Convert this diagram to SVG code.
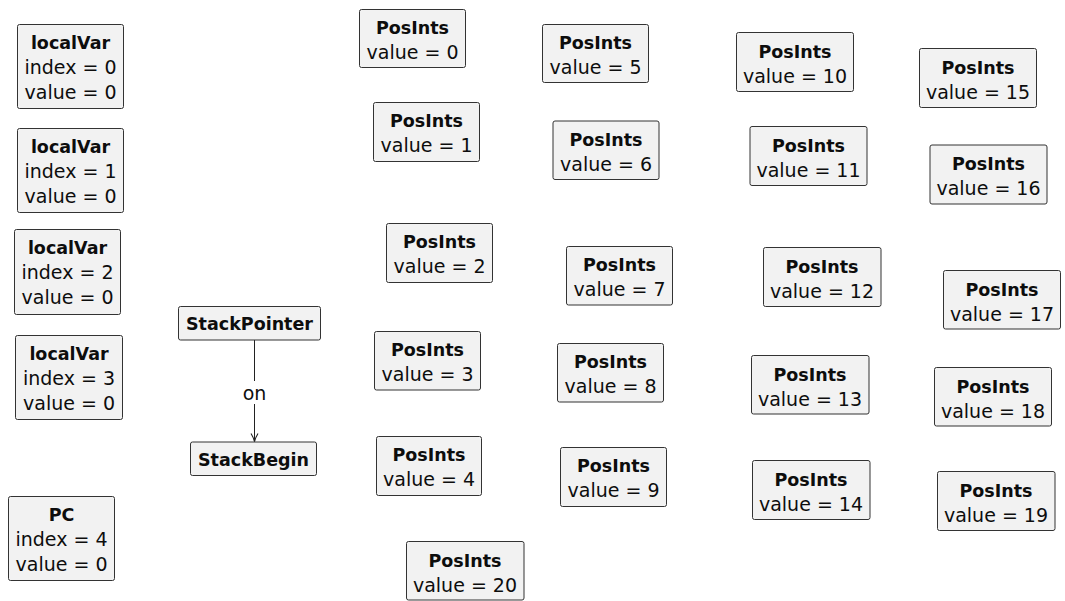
<svg xmlns="http://www.w3.org/2000/svg" width="1065" height="601" viewBox="0 0 1065 601">
  <style>
    .box { fill: #f2f2f2; stroke: #333333; stroke-width: 1; }
    .t { font-family: "DejaVu Sans", "Liberation Sans", sans-serif; font-size: 19px; fill: #0d0d0d; text-anchor: middle; }
    .b { font-weight: bold; font-size: 17.5px; }
    .edge { stroke: #222222; stroke-width: 1; fill: none; }
  </style>
  <defs>
    <marker id="arrow" markerWidth="12" markerHeight="12" refX="9" refY="5" orient="auto" markerUnits="userSpaceOnUse">
      <path d="M1,1.5 Q5,4 9,5 Q5,6 1,8.5" fill="none" stroke="#222222" stroke-width="1.1"/>
    </marker>
  </defs>
  <rect width="1065" height="601" fill="#ffffff"/>

  <!-- connectors -->
  <g id="connectors">
    <path class="edge" d="M254.5,340 L254.5,441.5" marker-end="url(#arrow)"/>
    <rect x="242" y="381" width="25" height="23" fill="#ffffff"/>
    <text class="t" x="254.5" y="400">on</text>
  </g>

  <!-- local variables -->
  <g id="localVar0">
    <rect class="box" x="17.5" y="24.5" width="106" height="84" rx="2"/>
    <text class="t b" x="70.5" y="49">localVar</text>
    <text class="t" x="70.5" y="74">index = 0</text>
    <text class="t" x="70.5" y="99">value = 0</text>
  </g>
  <g id="localVar1">
    <rect class="box" x="17.5" y="128.5" width="106" height="84" rx="2"/>
    <text class="t b" x="70.5" y="153">localVar</text>
    <text class="t" x="70.5" y="178">index = 1</text>
    <text class="t" x="70.5" y="203">value = 0</text>
  </g>
  <g id="localVar2">
    <rect class="box" x="14.5" y="229.5" width="106" height="85" rx="2"/>
    <text class="t b" x="67.5" y="254">localVar</text>
    <text class="t" x="67.5" y="279">index = 2</text>
    <text class="t" x="67.5" y="304">value = 0</text>
  </g>
  <g id="localVar3">
    <rect class="box" x="15.5" y="335.5" width="107" height="84" rx="2"/>
    <text class="t b" x="69" y="360">localVar</text>
    <text class="t" x="69" y="385">index = 3</text>
    <text class="t" x="69" y="410">value = 0</text>
  </g>
  <g id="PC">
    <rect class="box" x="8.5" y="496.5" width="106" height="84" rx="2"/>
    <text class="t b" x="61.5" y="521">PC</text>
    <text class="t" x="61.5" y="546">index = 4</text>
    <text class="t" x="61.5" y="571">value = 0</text>
  </g>

  <!-- stack -->
  <g id="StackPointer">
    <rect class="box" x="178.5" y="306.5" width="142" height="33.5" rx="2"/>
    <text class="t b" x="249.5" y="330">StackPointer</text>
  </g>
  <g id="StackBegin">
    <rect class="box" x="190.5" y="442" width="126" height="33.5" rx="2"/>
    <text class="t b" x="253.5" y="466">StackBegin</text>
  </g>

  <!-- positive integers -->
  <g id="PosInts0">
    <rect class="box" x="359.5" y="9.5" width="106" height="58" rx="2"/>
    <text class="t b" x="412.5" y="34">PosInts</text>
    <text class="t" x="412.5" y="59">value = 0</text>
  </g>
  <g id="PosInts1">
    <rect class="box" x="373.5" y="102.5" width="106" height="59" rx="2"/>
    <text class="t b" x="426.5" y="127">PosInts</text>
    <text class="t" x="426.5" y="152">value = 1</text>
  </g>
  <g id="PosInts2">
    <rect class="box" x="386.5" y="223.5" width="106" height="59" rx="2"/>
    <text class="t b" x="439.5" y="248">PosInts</text>
    <text class="t" x="439.5" y="273">value = 2</text>
  </g>
  <g id="PosInts3">
    <rect class="box" x="374.5" y="331.5" width="106" height="58.5" rx="2"/>
    <text class="t b" x="427.5" y="356">PosInts</text>
    <text class="t" x="427.5" y="381">value = 3</text>
  </g>
  <g id="PosInts4">
    <rect class="box" x="376.5" y="436.5" width="105" height="59" rx="2"/>
    <text class="t b" x="429" y="461">PosInts</text>
    <text class="t" x="429" y="486">value = 4</text>
  </g>
  <g id="PosInts5">
    <rect class="box" x="542.5" y="24.5" width="106" height="58" rx="2"/>
    <text class="t b" x="595.5" y="49">PosInts</text>
    <text class="t" x="595.5" y="74">value = 5</text>
  </g>
  <g id="PosInts6">
    <rect class="box" x="553" y="121" width="106" height="58.5" rx="2"/>
    <text class="t b" x="606" y="145.5">PosInts</text>
    <text class="t" x="606" y="170.5">value = 6</text>
  </g>
  <g id="PosInts7">
    <rect class="box" x="566.5" y="246.5" width="106" height="58.5" rx="2"/>
    <text class="t b" x="619.5" y="271">PosInts</text>
    <text class="t" x="619.5" y="296">value = 7</text>
  </g>
  <g id="PosInts8">
    <rect class="box" x="557.5" y="343.5" width="106" height="58.5" rx="2"/>
    <text class="t b" x="610.5" y="368">PosInts</text>
    <text class="t" x="610.5" y="393">value = 8</text>
  </g>
  <g id="PosInts9">
    <rect class="box" x="560.5" y="447.5" width="106" height="59" rx="2"/>
    <text class="t b" x="613.5" y="472">PosInts</text>
    <text class="t" x="613.5" y="497">value = 9</text>
  </g>
  <g id="PosInts10">
    <rect class="box" x="736.5" y="32.5" width="117" height="59" rx="2"/>
    <text class="t b" x="795" y="57.5">PosInts</text>
    <text class="t" x="795" y="82.5">value = 10</text>
  </g>
  <g id="PosInts11">
    <rect class="box" x="750" y="126.5" width="117" height="59" rx="2"/>
    <text class="t b" x="808.5" y="151.5">PosInts</text>
    <text class="t" x="808.5" y="176.5">value = 11</text>
  </g>
  <g id="PosInts12">
    <rect class="box" x="763.5" y="247.5" width="117.5" height="59" rx="2"/>
    <text class="t b" x="822" y="272.5">PosInts</text>
    <text class="t" x="822" y="297.5">value = 12</text>
  </g>
  <g id="PosInts13">
    <rect class="box" x="751.5" y="355.5" width="117.5" height="58.5" rx="2"/>
    <text class="t b" x="810" y="380.5">PosInts</text>
    <text class="t" x="810" y="405.5">value = 13</text>
  </g>
  <g id="PosInts14">
    <rect class="box" x="752.5" y="460.5" width="117.5" height="59" rx="2"/>
    <text class="t b" x="811" y="485.5">PosInts</text>
    <text class="t" x="811" y="510.5">value = 14</text>
  </g>
  <g id="PosInts15">
    <rect class="box" x="919.5" y="48.5" width="117" height="59" rx="2"/>
    <text class="t b" x="978" y="73.5">PosInts</text>
    <text class="t" x="978" y="98.5">value = 15</text>
  </g>
  <g id="PosInts16">
    <rect class="box" x="930" y="145" width="117" height="59" rx="2"/>
    <text class="t b" x="988.5" y="170">PosInts</text>
    <text class="t" x="988.5" y="195">value = 16</text>
  </g>
  <g id="PosInts17">
    <rect class="box" x="943.5" y="270.5" width="117" height="58.5" rx="2"/>
    <text class="t b" x="1002" y="295.5">PosInts</text>
    <text class="t" x="1002" y="320.5">value = 17</text>
  </g>
  <g id="PosInts18">
    <rect class="box" x="934.5" y="367.5" width="117" height="58.5" rx="2"/>
    <text class="t b" x="993" y="392.5">PosInts</text>
    <text class="t" x="993" y="417.5">value = 18</text>
  </g>
  <g id="PosInts19">
    <rect class="box" x="937.5" y="471.5" width="117.5" height="59" rx="2"/>
    <text class="t b" x="996" y="496.5">PosInts</text>
    <text class="t" x="996" y="521.5">value = 19</text>
  </g>
  <g id="PosInts20">
    <rect class="box" x="406.5" y="541.5" width="117.5" height="58.5" rx="2"/>
    <text class="t b" x="465" y="566.5">PosInts</text>
    <text class="t" x="465" y="591.5">value = 20</text>
  </g>
</svg>
